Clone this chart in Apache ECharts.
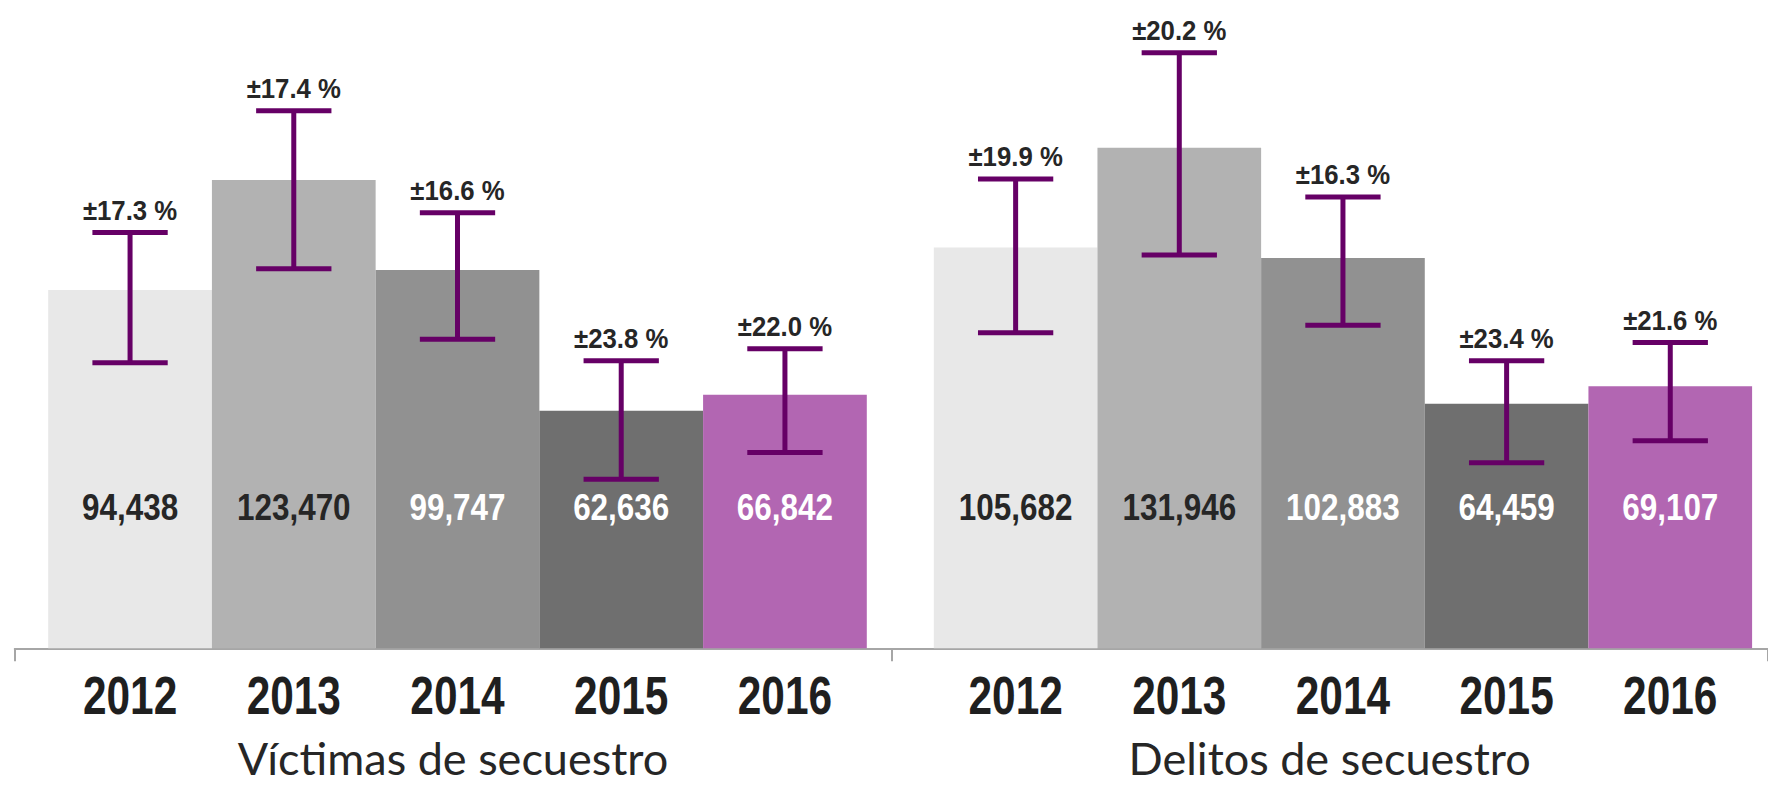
<!DOCTYPE html>
<html>
<head>
<meta charset="utf-8">
<script src="https://cdn.jsdelivr.net/npm/echarts@6/dist/echarts.min.js"></script>
<style>
html,body{margin:0;padding:0;background:#fff;}
#chart{width:1768px;height:786px;}
</style>
</head>
<body>
<div id="chart"></div>
<script>
// ---- data ----
const years = ['2012', '2013', '2014', '2015', '2016'];
const groupNames = ['Víctimas de secuestro', 'Delitos de secuestro'];
const victimas = [94438, 123470, 99747, 62636, 66842];
const delitos = [105682, 131946, 102883, 64459, 69107];
const victimasPct = [17.3, 17.4, 16.6, 23.8, 22.0];
const delitosPct = [19.9, 20.2, 16.3, 23.4, 21.6];
const victimasLow = [75300, 100100, 81500, 44600, 51600];
const victimasHigh = [109600, 141700, 114800, 75800, 79000];
const delitosLow = [83200, 103700, 85200, 48900, 54700];
const delitosHigh = [123700, 157000, 119000, 75800, 80600];

// ---- styles ----
const barColors = ['#E8E8E8', '#B2B2B2', '#919191', '#6F6F6F', '#B266B2'];
const valueLabelColors = ['#262626', '#262626', '#FFFFFF', '#FFFFFF', '#FFFFFF'];
const sans = "'Liberation Sans',Arial,sans-serif";
const errColor = '#660066';
const textDark = '#262626';
const yMax = 170000;
const gridTop = 3.5, gridHeight = 644.8;

function barData(values) {
  return values.map((v, i) => ({ value: v, itemStyle: { color: barColors[i] } }));
}
function errData(low, high, pct) {
  return low.map((l, i) => [i, l, high[i], pct[i]]);
}
function narrowText(text, x, y, size, sx, color) {
  return {
    type: 'text', x: x, y: y, scaleX: sx,
    style: { text: text, x: 0, y: 0, align: 'center', verticalAlign: 'middle',
             fontFamily: sans, fontWeight: 'bold', fontSize: size, fill: color }
  };
}
function renderErr(params, api) {
  const hi = api.coord([api.value(0), api.value(2)]);
  const lo = api.coord([api.value(0), api.value(1)]);
  const band = api.size([1, 0])[0];
  const half = band * 0.23;
  const ls = { stroke: errColor, lineWidth: 5 };
  return {
    type: 'group',
    children: [
      { type: 'line', shape: { x1: hi[0], y1: hi[1], x2: lo[0], y2: lo[1] }, style: ls },
      { type: 'line', shape: { x1: hi[0] - half, y1: hi[1], x2: hi[0] + half, y2: hi[1] }, style: ls },
      { type: 'line', shape: { x1: lo[0] - half, y1: lo[1], x2: lo[0] + half, y2: lo[1] }, style: ls },
      narrowText('±' + api.value(3).toFixed(1) + ' %', hi[0], hi[1] - 22, 28, 0.92, textDark)
    ]
  };
}
function renderLabels(params, api) {
  const i = api.value(0);
  const base = api.coord([i, 0]);
  return {
    type: 'group',
    children: [
      narrowText(api.value(1).toLocaleString('en-US'), base[0], base[1] - 141, 37, 0.85, valueLabelColors[i]),
      narrowText(years[i], base[0], base[1] + 47, 53, 0.8, '#1F1F1F')
    ]
  };
}

const yearAxis = (gi) => ({
  type: 'category', gridIndex: gi, data: years,
  axisLine: { show: false }, axisTick: { show: false }, axisLabel: { show: false }
});
const valAxis = (gi) => ({ type: 'value', gridIndex: gi, min: 0, max: yMax, show: false });

const barSeries = (gi, values) => ({
  type: 'bar', xAxisIndex: gi, yAxisIndex: gi,
  data: barData(values), barCategoryGap: '0%', z: 2
});
const labelSeries = (gi, values) => ({
  type: 'custom', xAxisIndex: gi, yAxisIndex: gi, clip: false,
  data: values.map((v, i) => [i, v]), encode: { x: 0, y: 1 },
  renderItem: renderLabels, z: 4, silent: true
});
const errSeries = (gi, low, high, pct) => ({
  type: 'custom', xAxisIndex: gi, yAxisIndex: gi, clip: false,
  data: errData(low, high, pct), encode: { x: 0, y: [1, 2] },
  renderItem: renderErr, z: 3, silent: true
});

const chart = echarts.init(document.getElementById('chart'), null, { renderer: 'svg' });
chart.setOption({
  animation: false,
  backgroundColor: '#ffffff',
  grid: [
    { left: 48.2, width: 818.6, top: gridTop, height: gridHeight },
    { left: 933.8, width: 818.3, top: gridTop, height: gridHeight },
    { left: 14.75, width: 1771, top: gridTop, height: gridHeight }
  ],
  xAxis: [
    yearAxis(0),
    yearAxis(1),
    {
      type: 'category', gridIndex: 2, data: groupNames,
      axisLine: { show: true, lineStyle: { color: '#A6A6A6', width: 2 } },
      axisTick: { show: true, length: 13, lineStyle: { color: '#A6A6A6', width: 2 } },
      axisLabel: { fontFamily: "Lato,'Open Sans',sans-serif", fontSize: 45, color: textDark, margin: 110, verticalAlign: 'middle', interval: 0 }
    }
  ],
  yAxis: [valAxis(0), valAxis(1), valAxis(2)],
  series: [
    barSeries(0, victimas),
    barSeries(1, delitos),
    errSeries(0, victimasLow, victimasHigh, victimasPct),
    errSeries(1, delitosLow, delitosHigh, delitosPct),
    labelSeries(0, victimas),
    labelSeries(1, delitos)
  ]
});
</script>
</body>
</html>
